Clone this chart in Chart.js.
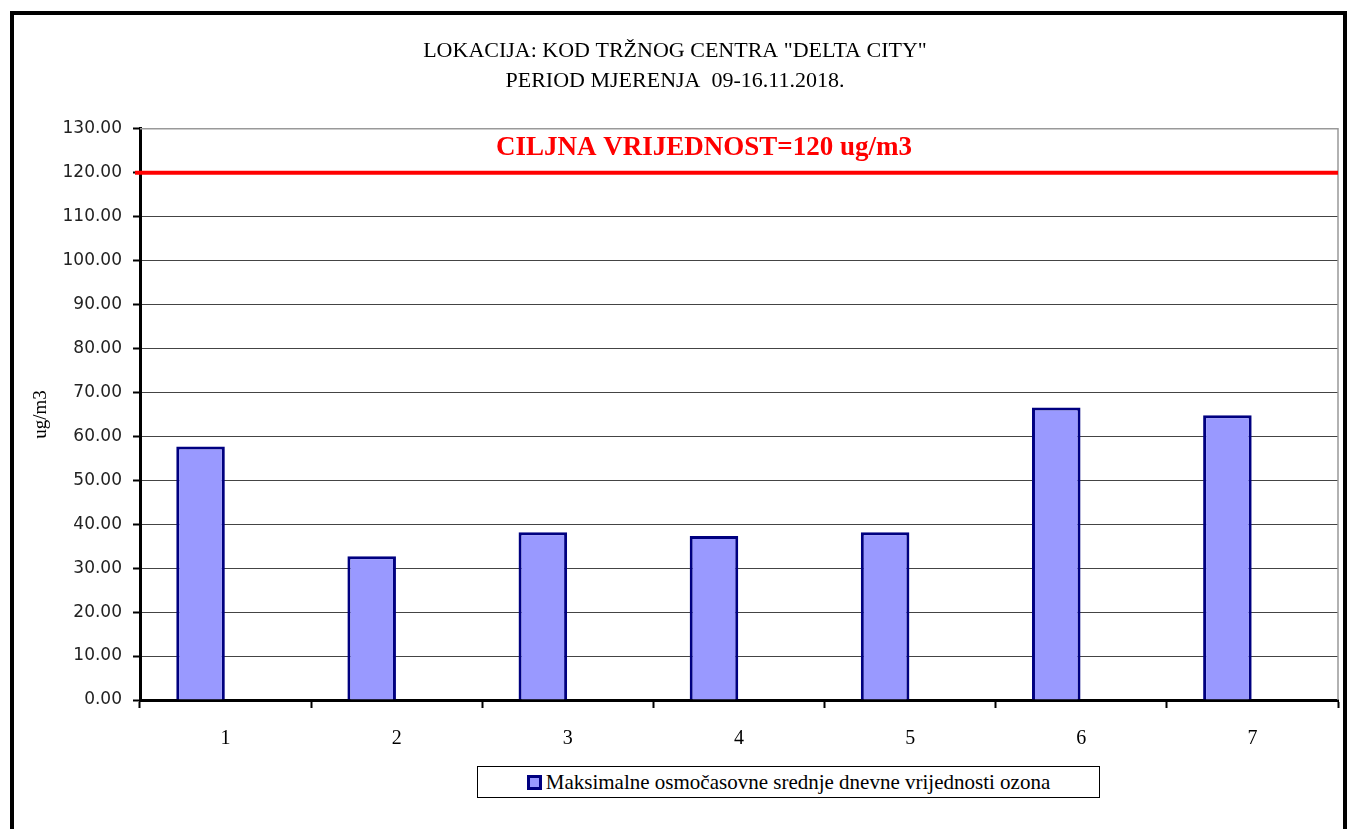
<!DOCTYPE html>
<html lang="sr">
  <head>
    <meta charset="UTF-8" />
    <title>Ozon - Delta City</title>
    <style>
      body { margin: 0; background: #fff; }
      #wrap { position: relative; width: 1358px; height: 829px; overflow: hidden; }
      #frame {
        position: absolute; left: 10px; top: 11px; width: 1337px; height: 900px;
        border: 4px solid #000; box-sizing: border-box;
      }
      #myChart { position: absolute; left: 0; top: 0; }
      #legend {
        position: absolute; left: 477px; top: 766px; width: 623px; height: 32px;
        border: 1px solid #000; box-sizing: border-box; background: #fff;
        display: flex; align-items: center; justify-content: center;
        font-family: "Liberation Serif", serif; font-size: 21px; color: #000;
      }
      .legend-color {
        width: 9px; height: 9px; background: #9999ff; border: 3px solid #000080;
        margin-right: 4px;
      }
    </style>
  </head>
  <body>
    <div id="wrap">
      <div id="frame"></div>
      <canvas id="myChart" width="1358" height="829"></canvas>
      <div id="legend"><span class="legend-color"></span><span id="legendText"></span></div>
    </div>

    <script src="https://cdn.jsdelivr.net/npm/chart.js"></script>
    <script>
      const labels = ["1", "2", "3", "4", "5", "6", "7"];
      const ozone = [57.7, 32.7, 38.2, 37.3, 38.2, 66.6, 64.8];
      // second (empty) series slot, as in the original sheet - shifts bars left
      const spacer = [null, null, null, null, null, null, null];
      const seriesName = "Maksimalne osmočasovne srednje dnevne vrijednosti ozona";
      const target = 120;
      const targetLabel = "CILJNA VRIJEDNOST=120 ug/m3";
      const titleLines = ['LOKACIJA: KOD TRŽNOG CENTRA "DELTA CITY"', "PERIOD MJERENJA  09-16.11.2018."];

      document.getElementById("legendText").textContent = seriesName;

      // frame around plot area + red target line
      const extras = {
        id: "extras",
        beforeDatasetsDraw(chart) {
          const { ctx, chartArea: a } = chart;
          ctx.save();
          ctx.strokeStyle = "#999";
          ctx.lineWidth = 1.5;
          ctx.beginPath();
          ctx.moveTo(a.left, a.top);
          ctx.lineTo(a.right, a.top);
          ctx.lineTo(a.right, a.bottom);
          ctx.stroke();
          ctx.restore();
        },
        afterDatasetsDraw(chart) {
          const { ctx, chartArea: a, scales } = chart;
          const y = scales.y.getPixelForValue(target);
          ctx.save();
          ctx.strokeStyle = "#ff0000";
          ctx.lineWidth = 4;
          ctx.beginPath();
          ctx.moveTo(a.left - 5, y);
          ctx.lineTo(a.right, y);
          ctx.stroke();
          ctx.fillStyle = "#ff0000";
          ctx.font = 'bold 27px "Liberation Serif", serif';
          ctx.textAlign = "center";
          ctx.textBaseline = "middle";
          ctx.fillText(targetLabel, 704, y - 25);
          ctx.restore();
        },
      };

      new Chart(document.getElementById("myChart"), {
        type: "bar",
        data: {
          labels: labels,
          datasets: [
            {
              label: seriesName,
              data: ozone,
              backgroundColor: "#9999ff",
              borderColor: "#000080",
              borderWidth: 3,
              borderSkipped: "bottom",
              categoryPercentage: 0.585,
              barPercentage: 0.97,
            },
            {
              label: "",
              data: spacer,
              categoryPercentage: 0.585,
              barPercentage: 0.97,
            },
          ],
        },
        options: {
          responsive: false,
          animation: false,
          layout: { padding: { left: 12, right: 20, top: 28, bottom: 69 } },
          plugins: {
            legend: { display: false },
            tooltip: { enabled: false },
            title: {
              display: true,
              text: titleLines,
              color: "#000",
              font: { family: '"Liberation Serif", serif', size: 22, weight: "normal", lineHeight: 1.36 },
              padding: { top: 8, bottom: 33 },
            },
          },
          scales: {
            x: {
              afterFit: (s) => { s.height = 60; },
              grid: {
                offset: true,
                drawOnChartArea: false,
                drawTicks: true,
                tickLength: 8,
                tickColor: "#000",
                tickWidth: 2,
              },
              border: { color: "#000", width: 3 },
              ticks: {
                color: "#000",
                padding: 19,
                font: { family: '"Liberation Serif", serif', size: 20 },
              },
            },
            y: {
              min: 0,
              max: 130,
              afterFit: (s) => { s.width = 128; },
              grid: {
                color: (c) => (c.tick && c.tick.value === 130 ? "#aaa" : "#444"),
                lineWidth: 1,
                tickLength: 7,
                tickColor: "#000",
                tickWidth: 2,
              },
              border: { color: "#000", width: 3 },
              ticks: {
                stepSize: 10,
                color: "#222",
                padding: 11,
                font: { family: '"DejaVu Sans", sans-serif', size: 17 },
                callback: (v) => Number(v).toFixed(2),
              },
              title: {
                display: true,
                text: "ug/m3",
                color: "#000",
                font: { family: '"Liberation Serif", serif', size: 19 },
                padding: { top: 18, bottom: 0 },
              },
            },
          },
        },
        plugins: [extras],
      });
    </script>
  </body>
</html>
